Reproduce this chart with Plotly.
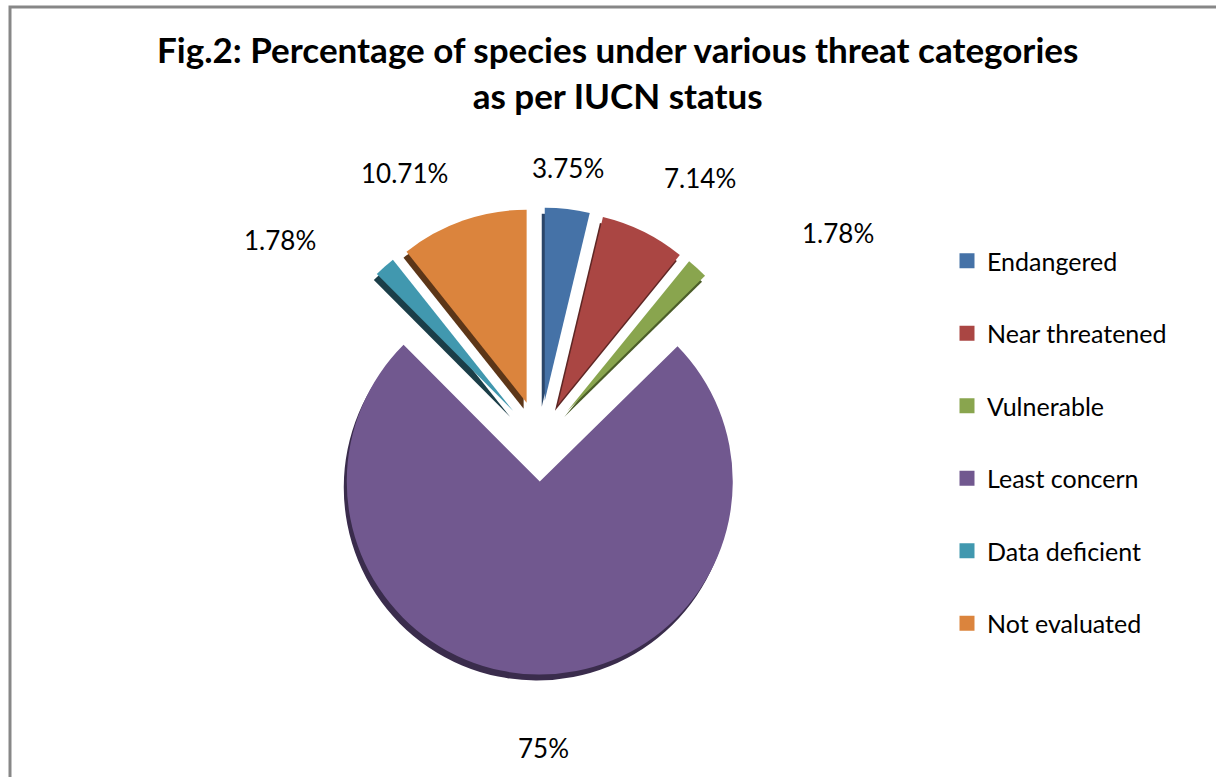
import plotly.graph_objects as go

# IUCN threat categories and share of species (%)
categories = ["Endangered", "Near threatened", "Vulnerable",
              "Least concern", "Data deficient", "Not evaluated"]
percent = [3.75, 7.14, 1.78, 75, 1.78, 10.71]
label_text = ["3.75%", "7.14%", "1.78%", "75%", "1.78%", "10.71%"]

face_colors = ["#4572A7", "#AA4643", "#89A54E", "#71588F", "#4198AF", "#DB843D"]
side_colors = ["#2B4669", "#5E2624", "#4C5E29", "#3A2C4C", "#1B3E48", "#5C3618"]

W, H = 1216, 777
FONT = "Lato"

# pie geometry in pixels
cx, cy, rad, pull = 540, 441, 193, 0.21
half = rad * (1 + pull)
dom_x = [(cx - half) / W, (cx + half) / W]
dom_y = [1 - (cy + half) / H, 1 - (cy - half) / H]

# extruded side of the 3D pie: same pie, darker, nudged down-left
dx, dy = -3 / W, -6 / H

fig = go.Figure()
fig.add_trace(go.Pie(
    labels=categories, values=percent, sort=False, direction="clockwise",
    rotation=0, pull=[pull] * len(percent), textinfo="none",
    marker=dict(colors=side_colors, line=dict(width=0)),
    domain=dict(x=[dom_x[0] + dx, dom_x[1] + dx], y=[dom_y[0] + dy, dom_y[1] + dy]),
    showlegend=False, hoverinfo="skip",
))
fig.add_trace(go.Pie(
    labels=categories, values=percent, sort=False, direction="clockwise",
    rotation=0, pull=[pull] * len(percent), textinfo="none",
    marker=dict(colors=face_colors, line=dict(width=0)),
    domain=dict(x=dom_x, y=dom_y), showlegend=False,
))

# legend entries (square swatches, one group each so they can be spaced)
for name, col in zip(categories, face_colors):
    fig.add_trace(go.Scatter(
        x=[None], y=[None], mode="markers", name=name, legendgroup=name,
        marker=dict(symbol="square", size=15, color=col),
    ))

# data labels, placed around the exploded pie (pixel centres)
label_xy = [(568, 168), (700, 178), (838, 233), (543, 748), (280, 240), (405, 173)]
for txt, (px, py) in zip(label_text, label_xy):
    fig.add_annotation(
        x=px / W, y=1 - py / H, xref="paper", yref="paper",
        text=txt, showarrow=False, xanchor="center", yanchor="middle",
        font=dict(family=FONT, size=26, color="#000000"),
    )

# chart title
fig.add_annotation(
    x=617 / W, y=1 - 72 / H, xref="paper", yref="paper",
    text="<b>Fig.2: Percentage of species under various threat categories<br>as per IUCN status</b>",
    showarrow=False, xanchor="center", yanchor="middle", align="center",
    font=dict(family=FONT, size=35, color="#000000"),
)

# chart frame
fig.add_shape(type="rect", xref="paper", yref="paper",
              x0=10 / W, x1=1.05, y0=-0.05, y1=1 - 7 / H,
              line=dict(color="#878787", width=3), fillcolor="rgba(0,0,0,0)")

fig.update_layout(
    width=W, height=H,
    margin=dict(l=0, r=0, t=0, b=0),
    paper_bgcolor="#FFFFFF", plot_bgcolor="#FFFFFF",
    xaxis=dict(visible=False), yaxis=dict(visible=False),
    legend=dict(
        x=947 / W, xanchor="left", y=1 - 238 / H, yanchor="top",
        font=dict(family=FONT, size=25, color="#000000"),
        tracegroupgap=37, itemsizing="trace",
        bgcolor="rgba(0,0,0,0)",
    ),
)

fig.write_html("out.html")
